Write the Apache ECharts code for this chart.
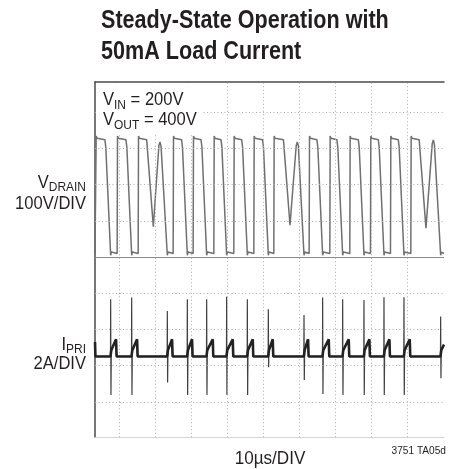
<!DOCTYPE html>
<html>
<head>
<meta charset="utf-8">
<script src="https://cdn.jsdelivr.net/npm/echarts@6/dist/echarts.min.js"></script>
<style>
  html, body { margin: 0; padding: 0; background: #fff; }
  #chart { width: 458px; height: 469px; }
</style>
</head>
<body>
<div id="chart"></div>
<script>
// Graticule: vertical lines every 10 µs (10µs/DIV), horizontal lines every division
const timeGridlines = [10, 20, 30, 40, 50, 60, 70, 80, 90];
const divisionGridlines = [-4, -3, -2, -1, 1, 2, 3, 4];

// VDRAIN switching edges, in µs
const drainRise      = [3.53, 9.45, 15.29, 25.01, 30.56, 36.31, 41.86, 47.42, 52.97, 62.79, 68.53, 74.08, 79.82, 85.38, 91.03];
const drainFallStart = [6.0, 11.85, 17.6, 27.3, 32.7, 38.25, 44.0, 49.8, 55.6, 64.9, 70.45, 76.4, 81.95, 87.5, 93.3];
// drain reaches its low level here; the primary current spike sits on the same instant
const drainBottom    = [7.6, 13.44, 23.34, 28.9, 34.27, 39.82, 45.57, 51.4, 61.31, 66.49, 72.05, 77.97, 83.53, 89.08, 99.27];
const drainHigh = 318;   // V
const drainLow = 0;      // V

// cycles that ring once before the switch turns on
const ringCycle   = [2, 8, 14];
const ringValleyT = [19.45, 57.42, 95.19];
const ringValleyV = [74, 78, 70];
const ringPeakT   = [21.3, 59.45, 97.23];
const ringPeakV   = [308, 308, 313];

// IPRI turn-on spikes (A), one per drainBottom entry
const spikeHigh = [3.16, 3.25, 2.51, 3.16, 3.16, 3.3, 3.16, 2.6, 2.29, 3.25, 3.16, 3.12, 3.27, 3.27, 2.2];
const spikeLow  = [-2.12, -2.12, -1.44, -2.12, -2.12, -2.12, -2.12, -0.6, -1.3, -2.07, -2.12, -2.12, -2.12, -2.12, -1.2];
const rampStart = 0.35;  // A, just after the spike
const rampPeak  = 0.95;  // A, just before turn-off

const T_MIN = 3.25, T_MAX = 100.2;
const FONT = "'Liberation Sans', Arial, sans-serif";
const INK = '#231f20';
const NARROW = 0.92;   // horizontal squeeze for a condensed face

function drainTrace() {
  const pts = [[T_MIN, drainLow]];
  for (let i = 0; i < drainRise.length; i++) {
    const r = drainRise[i];
    pts.push([r - 0.05, drainLow]);
    pts.push([r + 0.05, drainHigh + 6]);
    pts.push([r + 0.3, drainHigh]);
    const e = drainFallStart[i];
    pts.push([e, drainHigh - 4]);
    const k = ringCycle.indexOf(i);
    if (k >= 0) {
      pts.push([ringValleyT[k], ringValleyV[k]]);
      pts.push([ringPeakT[k] - 0.3, ringPeakV[k] - 10]);
      pts.push([ringPeakT[k], ringPeakV[k]]);
      pts.push([ringPeakT[k] + 0.3, ringPeakV[k] - 12]);
    } else {
      pts.push([e + 0.25, drainHigh - 25]);
    }
    const b = drainBottom[i];
    pts.push([b, drainLow - 5]);
    pts.push([b + 0.2, drainLow + 4]);
    pts.push([b + 0.4, drainLow]);
  }
  pts.push([T_MAX, drainLow]);
  return pts;
}

function currentTrace(withSpikes) {
  const pts = [[T_MIN, 0.8], [T_MIN + 0.12, 0]];
  for (let i = 0; i < drainBottom.length; i++) {
    const s = drainBottom[i];
    pts.push([s - 0.05, 0]);
    if (withSpikes) {
      pts.push([s, spikeHigh[i]]);
      pts.push([s + 0.08, spikeLow[i]]);
    }
    pts.push([s + 0.18, rampStart]);
    const r = drainRise[i + 1];
    if (r !== undefined) {
      pts.push([r - 0.35, rampPeak]);
      pts.push([r - 0.2, 0]);
    } else {
      pts.push([T_MAX, rampStart + 0.3]);
    }
  }
  return pts;
}

function label(text, x, y, size, align, squeeze) {
  return {
    type: 'text', x: x, y: y, z: 11, scaleX: squeeze || NARROW,
    style: { text: text, fontSize: size, fontFamily: FONT, fill: INK, align: align, verticalAlign: 'middle' }
  };
}

function subLabel(main, sub, rest, x, y, align, drop) {
  const m = { fontSize: 18, fontFamily: FONT, fill: INK, verticalAlign: 'bottom', lineHeight: 20, padding: [0, 0, drop, 0] };
  const s = { fontSize: 13, fontFamily: FONT, fill: INK, verticalAlign: 'bottom', lineHeight: 20 };
  return {
    type: 'text', x: x, y: y, z: 11, scaleX: NARROW,
    style: { text: '{m|' + main + '}{s|' + sub + '}' + (rest ? '{m|' + rest + '}' : ''),
             align: align, verticalAlign: 'middle', rich: { m: m, s: s } }
  };
}

const chart = echarts.init(document.getElementById('chart'), null, { renderer: 'canvas' });

const option = {
  animation: false,
  backgroundColor: '#fff',
  grid: { left: 95, right: 14, top: 82, bottom: 31.7 },
  xAxis: [
    { type: 'value', min: T_MIN, max: T_MAX, position: 'top',
      axisLine: { show: true, onZero: false, lineStyle: { color: '#4a4a4a', width: 1.5 } },
      axisTick: { show: false }, axisLabel: { show: false }, splitLine: { show: false } },
    { type: 'value', min: T_MIN, max: T_MAX, position: 'bottom',
      axisLine: { show: true, onZero: false, lineStyle: { color: '#d4d4d4', width: 1 } },
      axisTick: { show: false }, axisLabel: { show: false }, splitLine: { show: false } }
  ],
  yAxis: [
    // VDRAIN, 100V/DIV
    { type: 'value', min: -507, max: 473.1, show: false },
    // IPRI, 2A/DIV
    { type: 'value', min: -4.46, max: 15.14, show: false },
    // screen divisions, centre line at 0
    { type: 'value', min: -4.974, max: 4.828, position: 'left',
      axisLine: { show: true, onZero: false, lineStyle: { color: '#4a4a4a', width: 1.5 } },
      axisTick: { show: false }, axisLabel: { show: false }, splitLine: { show: false } }
  ],
  series: [
    {
      name: 'graticule', type: 'line', xAxisIndex: 0, yAxisIndex: 2, data: [],
      silent: true, z: 1,
      markLine: {
        silent: true, symbol: 'none', label: { show: false },
        lineStyle: { color: '#acacac', type: [1, 2.5], width: 1 },
        data: timeGridlines.map(v => ({ xAxis: v }))
          .concat(divisionGridlines.map(v => ({ yAxis: v })))
          .concat([{ yAxis: 0, lineStyle: { color: '#8c8c8c', type: 'solid', width: 1 } }])
      }
    },
    {
      name: 'VDRAIN', type: 'line', xAxisIndex: 0, yAxisIndex: 0,
      data: drainTrace(), showSymbol: false, z: 3,
      lineStyle: { color: '#707070', width: 1.5 }
    },
    {
      name: 'IPRI', type: 'line', xAxisIndex: 0, yAxisIndex: 1,
      data: currentTrace(true), showSymbol: false, z: 4,
      lineStyle: { color: '#404040', width: 1.2 }
    },
    {
      name: 'IPRI baseline', type: 'line', xAxisIndex: 0, yAxisIndex: 1,
      data: currentTrace(false), showSymbol: false, z: 5,
      lineStyle: { color: '#222', width: 2.6 }
    }
  ],
  graphic: [
    { type: 'text', x: 101, y: 21, z: 20, scaleX: 0.83,
      style: { text: 'Steady-State Operation with', fontSize: 26, fontWeight: 'bold', fontFamily: FONT,
               fill: INK, verticalAlign: 'middle' } },
    { type: 'text', x: 101, y: 52, z: 20, scaleX: 0.83,
      style: { text: '50mA Load Current', fontSize: 26, fontWeight: 'bold', fontFamily: FONT,
               fill: INK, verticalAlign: 'middle' } },
    // clear patch behind the operating conditions
    { type: 'rect', z: 10, shape: { x: 96, y: 83, width: 105, height: 50 }, style: { fill: '#fff' } },
    subLabel('V', 'IN', ' = 200V', 103, 102, 'left', 3),
    subLabel('V', 'OUT', ' = 400V', 103, 122, 'left', 3),
    subLabel('V', 'DRAIN', '', 86, 184, 'right', 2),
    label('100V/DIV', 86, 204, 18, 'right'),
    subLabel('I', 'PRI', '', 86, 346, 'right', 2),
    label('2A/DIV', 86, 364, 18, 'right'),
    label('10µs/DIV', 270, 459, 18, 'center', 0.95),
    label('3751 TA05d', 446, 451, 11.5, 'right', 0.88)
  ]
};
chart.setOption(option);
</script>
</body>
</html>
